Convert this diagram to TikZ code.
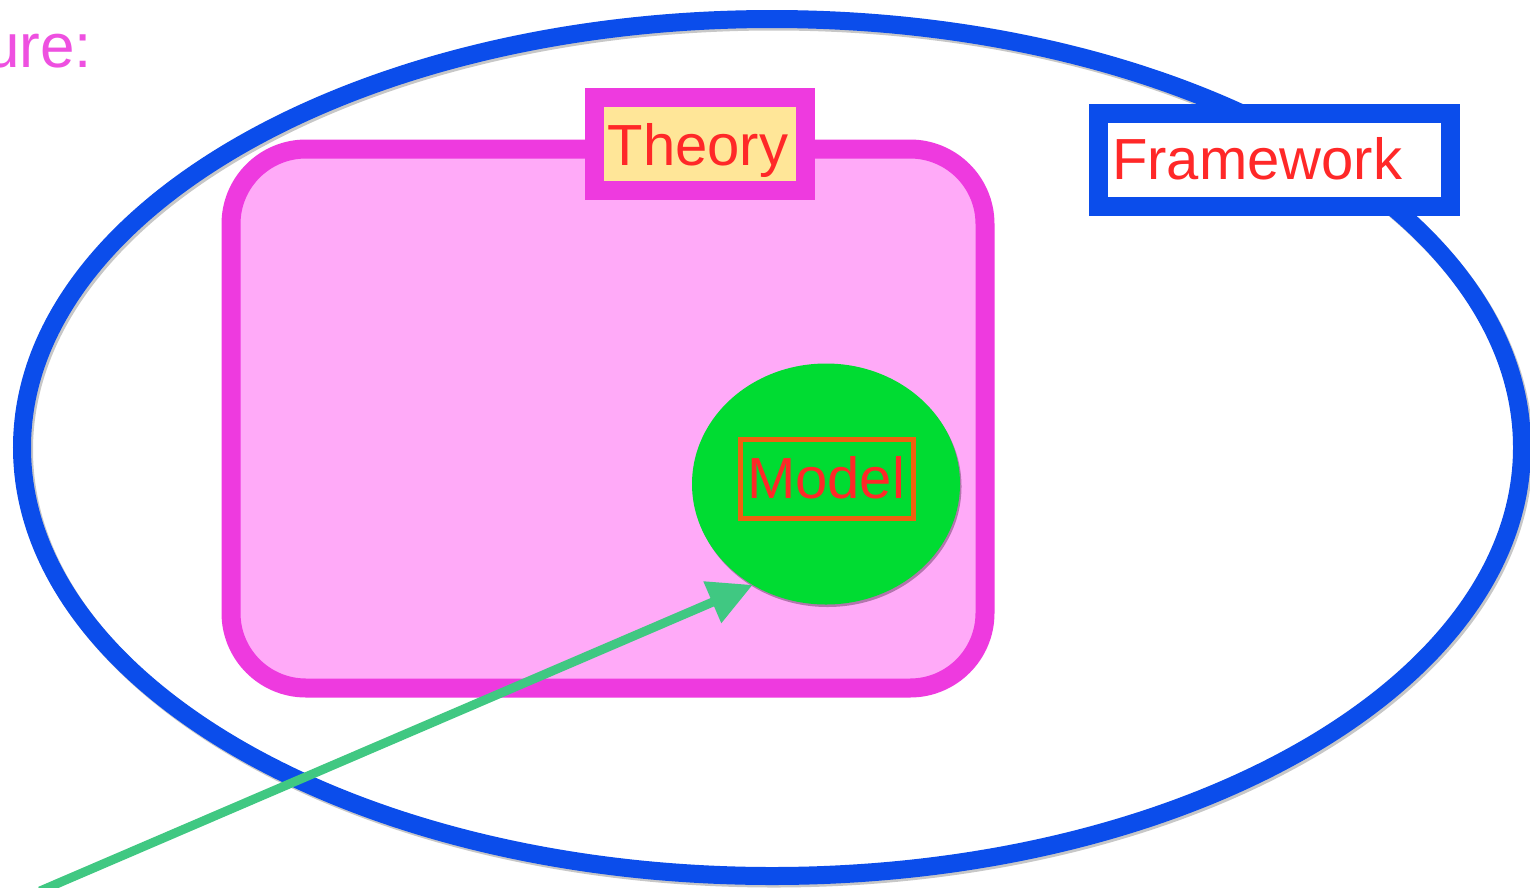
\documentclass[tikz,border=0pt]{standalone}
\usepackage{fontspec}
\setmainfont{Liberation Sans}
\usetikzlibrary{shapes.geometric,arrows.meta,shadows}
\definecolor{fwblue}{RGB}{11,77,235}
\definecolor{thborder}{RGB}{238,58,223}
\definecolor{thfill}{RGB}{255,170,248}
\definecolor{thlabel}{RGB}{255,230,152}
\definecolor{txtred}{RGB}{255,40,40}
\definecolor{mdgreen}{RGB}{0,220,50}
\definecolor{mdorange}{RGB}{240,96,16}
\definecolor{arrgreen}{RGB}{64,200,130}
\definecolor{urepink}{RGB}{238,80,224}
\begin{document}
\begin{tikzpicture}[x=1pt,y=-1pt,
  every node/.style={inner sep=0pt, outer sep=0pt},
  bigtxt/.style={font=\fontsize{58}{70}\selectfont, text=txtred},
  shad/.style={drop shadow={shadow xshift=1.5pt, shadow yshift=-2.5pt, opacity=.3, fill=black}},
  frame/.style={ellipse, draw=fwblue, line width=18pt, minimum width=1500pt, minimum height=857pt},
  theorybox/.style={rectangle, rounded corners=75pt, draw=thborder, fill=thfill, line width=19pt, minimum width=754pt, minimum height=539pt},
  labelbox/.style={rectangle, draw=thborder, fill=thlabel, line width=19pt, minimum width=211pt, minimum height=93pt},
  fwbox/.style={rectangle, draw=fwblue, fill=white, line width=19pt, minimum width=352pt, minimum height=93pt},
  modelell/.style={ellipse, fill=mdgreen, minimum width=268pt, minimum height=241pt},
  modelbox/.style={rectangle, draw=mdorange, line width=5pt, minimum width=173pt, minimum height=79pt},
  link/.style={draw=arrgreen, line width=9pt, -{Triangle[length=44pt,width=43pt]}}
]
\useasboundingbox (0,0) rectangle (1530,887);
\fill[white] (0,0) rectangle (1530,887);
% caption fragment
\node[anchor=base east, font=\fontsize{62}{74}\selectfont, text=urepink] (cap) at (92,67) {ure:};
% big framework ellipse with faint shadow
\node[frame, draw=black, opacity=.22] (frameshadow) at (774,450) {};
\node[frame] (frame) at (772,447.5) {};
% theory box
\node[theorybox, shad] (theory) at (608,418.5) {};
\node[labelbox] (theorylabel) at (699.5,143.5) {};
\node[bigtxt, anchor=base] (theorytext) at (698,165) {Theory};
% model
\node[modelell, shad] (model) at (826,484) {};
\node[modelbox] (modelbox) at (826.5,478.5) {};
\node[bigtxt, anchor=base] (modeltext) at (826,498) {Model};
% framework label
\node[fwbox] (fwbox) at (1274,159.5) {};
\node[bigtxt, anchor=base west] (fwtext) at (1112,179) {Framework};
% arrow
\coordinate (start) at (40,891);
\draw[link] (start) -- (model.234);
\end{tikzpicture}
\end{document}
